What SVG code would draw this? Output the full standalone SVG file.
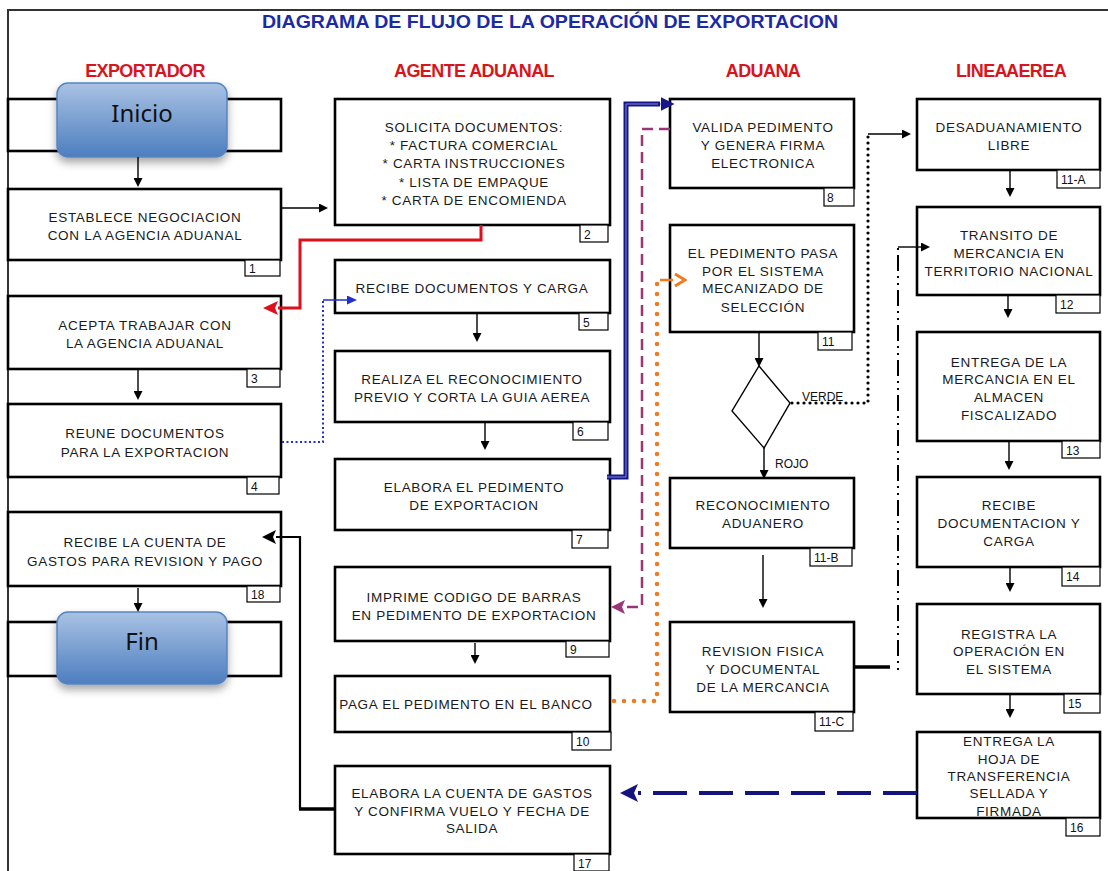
<svg xmlns="http://www.w3.org/2000/svg" width="1108" height="871" viewBox="0 0 1108 871">
<style>
.box{fill:#fff;stroke:#000;stroke-width:2.6}
.tag{fill:#fff;stroke:#000;stroke-width:1.2}
.t{font-family:"Liberation Sans",Arial,sans-serif;font-size:13.5px;fill:#1a1a1a;text-anchor:middle;letter-spacing:0.7px}
.n{font-family:"Liberation Sans",Arial,sans-serif;font-size:12px;fill:#111}
.hd{font-family:"Liberation Sans",Arial,sans-serif;font-size:18px;font-weight:bold;fill:#d8141c;text-anchor:middle;letter-spacing:-0.6px}
.term{font-family:"Noto Sans","Open Sans",sans-serif;font-size:24px;fill:#111;text-anchor:middle}
.ln{fill:none;stroke:#000;stroke-width:1.4}
</style>
<defs>
<linearGradient id="g" x1="0" y1="0" x2="0" y2="1">
<stop offset="0" stop-color="#a9c2e3"/>
<stop offset="1" stop-color="#4d7ebf"/>
</linearGradient>
<filter id="sh" x="-20%" y="-20%" width="140%" height="160%">
<feDropShadow dx="0" dy="5" stdDeviation="4" flood-color="#000" flood-opacity="0.35"/>
</filter>
<marker id="aK" markerUnits="userSpaceOnUse" markerWidth="10" markerHeight="9" refX="0" refY="4.5" orient="auto"><path d="M0,0 L9,4.5 L0,9 z" fill="#000"/></marker>
<marker id="aKb" markerUnits="userSpaceOnUse" markerWidth="16" markerHeight="14" refX="0" refY="7" orient="auto"><path d="M0,0 L14,7 L0,14 L3,7 z" fill="#000"/></marker>
<marker id="aR" markerUnits="userSpaceOnUse" markerWidth="16" markerHeight="14" refX="0" refY="7" orient="auto"><path d="M0,0 L15,7 L0,14 L3,7 z" fill="#e0101a"/></marker>
<marker id="aB" markerUnits="userSpaceOnUse" markerWidth="11" markerHeight="9" refX="0" refY="4.5" orient="auto"><path d="M0,0 L10,4.5 L0,9 z" fill="#1f2fd0"/></marker>
<marker id="aN" markerUnits="userSpaceOnUse" markerWidth="16" markerHeight="14" refX="0" refY="7" orient="auto"><path d="M0,0 L14,7 L0,14 z" fill="#16168a"/></marker>
<marker id="aP" markerUnits="userSpaceOnUse" markerWidth="15" markerHeight="14" refX="0" refY="7" orient="auto"><path d="M0,0 L14,7 L0,14 L3,7 z" fill="#9c3577"/></marker>
<marker id="aO" markerUnits="userSpaceOnUse" markerWidth="14" markerHeight="14" refX="0" refY="7" orient="auto"><path d="M2,1 L12,7 L2,13" fill="none" stroke="#f07a1e" stroke-width="3"/></marker>
<marker id="aD" markerUnits="userSpaceOnUse" markerWidth="20" markerHeight="18" refX="0" refY="9" orient="auto"><path d="M0,0 L18,9 L0,18 L4,9 z" fill="#14147e"/></marker>
</defs>

<!-- frame -->
<path d="M8,871 V10 H1108" fill="none" stroke="#333" stroke-width="2"/>

<text x="550" y="28" font-family="'Liberation Sans',Arial,sans-serif" font-size="18" font-weight="bold" fill="#1c2aa6" text-anchor="middle" textLength="576" lengthAdjust="spacingAndGlyphs">DIAGRAMA DE FLUJO DE LA OPERACIÓN DE EXPORTACION</text>

<text class="hd" x="145" y="77">EXPORTADOR</text>
<text class="hd" x="474" y="77">AGENTE ADUANAL</text>
<text class="hd" x="763" y="77">ADUANA</text>
<text class="hd" x="1011" y="77" word-spacing="-4">LINEA AEREA</text>

<!-- EXPORTADOR -->
<g id="inicio">
<rect class="box" x="8" y="99" width="273" height="52"/>
<rect x="57" y="83" width="170" height="74" rx="11" fill="url(#g)" stroke="#5585c4" stroke-width="1.5" filter="url(#sh)"/>
<text class="term" x="142" y="122">Inicio</text>
</g>
<g id="n1">
<rect class="box" x="8" y="189" width="273" height="71"/>
<text class="t" x="145" y="222">ESTABLECE NEGOCIACION</text>
<text class="t" x="145" y="240">CON LA AGENCIA ADUANAL</text>
<rect class="tag" x="245" y="260" width="35" height="16"/>
<text class="n" x="249" y="273">1</text>
</g>
<g id="n3">
<rect class="box" x="8" y="296" width="273" height="73"/>
<text class="t" x="145" y="330">ACEPTA TRABAJAR CON</text>
<text class="t" x="145" y="348">LA AGENCIA ADUANAL</text>
<rect class="tag" x="247" y="369" width="33" height="18"/>
<text class="n" x="251" y="383">3</text>
</g>
<g id="n4">
<rect class="box" x="8" y="404" width="273" height="73"/>
<text class="t" x="145" y="438">REUNE DOCUMENTOS</text>
<text class="t" x="145" y="457">PARA LA EXPORTACION</text>
<rect class="tag" x="247" y="477" width="32" height="17"/>
<text class="n" x="251" y="491">4</text>
</g>
<g id="n18">
<rect class="box" x="8" y="512" width="273" height="74"/>
<text class="t" x="145" y="547">RECIBE LA CUENTA DE</text>
<text class="t" x="145" y="566">GASTOS PARA REVISION Y PAGO</text>
<rect class="tag" x="247" y="586" width="33" height="16"/>
<text class="n" x="251" y="599">18</text>
</g>
<g id="fin">
<rect class="box" x="8" y="622" width="273" height="54"/>
<rect x="57" y="612" width="170" height="72" rx="11" fill="url(#g)" stroke="#5585c4" stroke-width="1.5" filter="url(#sh)"/>
<text class="term" x="142" y="650">Fin</text>
</g>

<!-- AGENTE ADUANAL -->
<g id="n2">
<rect class="box" x="335" y="99" width="275" height="126"/>
<text class="t" x="474" y="132">SOLICITA DOCUMENTOS:</text>
<text class="t" x="474" y="150">* FACTURA COMERCIAL</text>
<text class="t" x="474" y="168">* CARTA INSTRUCCIONES</text>
<text class="t" x="474" y="187">* LISTA DE EMPAQUE</text>
<text class="t" x="474" y="205">* CARTA DE ENCOMIENDA</text>
<rect class="tag" x="580" y="225" width="28" height="17"/>
<text class="n" x="584" y="239">2</text>
</g>
<g id="n5">
<rect class="box" x="335" y="260" width="275" height="53"/>
<text class="t" x="472" y="293">RECIBE DOCUMENTOS Y CARGA</text>
<rect class="tag" x="579" y="313" width="29" height="17"/>
<text class="n" x="583" y="327">5</text>
</g>
<g id="n6">
<rect class="box" x="335" y="351" width="275" height="71"/>
<text class="t" x="472" y="384">REALIZA EL RECONOCIMIENTO</text>
<text class="t" x="472" y="402">PREVIO Y CORTA LA GUIA AEREA</text>
<rect class="tag" x="573" y="422" width="35" height="18"/>
<text class="n" x="577" y="436">6</text>
</g>
<g id="n7">
<rect class="box" x="335" y="459" width="275" height="71"/>
<text class="t" x="474" y="492">ELABORA EL PEDIMENTO</text>
<text class="t" x="474" y="510">DE EXPORTACION</text>
<rect class="tag" x="572" y="530" width="36" height="18"/>
<text class="n" x="576" y="544">7</text>
</g>
<g id="n9">
<rect class="box" x="335" y="567" width="275" height="74"/>
<text class="t" x="474" y="602">IMPRIME CODIGO DE BARRAS</text>
<text class="t" x="474" y="620">EN PEDIMENTO DE EXPORTACION</text>
<rect class="tag" x="566" y="641" width="43" height="16"/>
<text class="n" x="570" y="654">9</text>
</g>
<g id="n10">
<rect class="box" x="335" y="676" width="275" height="56"/>
<text class="t" x="466" y="709">PAGA EL PEDIMENTO EN EL BANCO</text>
<rect class="tag" x="572" y="732" width="39" height="18"/>
<text class="n" x="576" y="746">10</text>
</g>
<g id="n17">
<rect class="box" x="335" y="766" width="275" height="88"/>
<text class="t" x="472" y="798">ELABORA LA CUENTA DE GASTOS</text>
<text class="t" x="472" y="816">Y CONFIRMA VUELO Y FECHA DE</text>
<text class="t" x="472" y="833">SALIDA</text>
<rect class="tag" x="574" y="854" width="35" height="17"/>
<text class="n" x="578" y="868">17</text>
</g>

<!-- ADUANA -->
<g id="n8">
<rect class="box" x="670" y="99" width="184" height="89"/>
<text class="t" x="763" y="132">VALIDA PEDIMENTO</text>
<text class="t" x="763" y="150">Y GENERA FIRMA</text>
<text class="t" x="763" y="168">ELECTRONICA</text>
<rect class="tag" x="824" y="188" width="30" height="18"/>
<text class="n" x="827" y="202">8</text>
</g>
<g id="n11">
<rect class="box" x="670" y="225" width="184" height="107"/>
<text class="t" x="763" y="258">EL PEDIMENTO PASA</text>
<text class="t" x="763" y="276">POR EL SISTEMA</text>
<text class="t" x="763" y="293">MECANIZADO DE</text>
<text class="t" x="763" y="312">SELECCIÓN</text>
<rect class="tag" x="818" y="332" width="34" height="18"/>
<text class="n" x="822" y="346">11</text>
</g>
<g id="decision">
<polygon points="759,366 790,403 764,448 732,411" fill="#fff" stroke="#000" stroke-width="1.4"/>
<text class="n" x="802" y="401" font-size="12.5">VERDE</text>
<text class="n" x="775" y="468" font-size="12.5">ROJO</text>
</g>
<g id="n11b">
<rect class="box" x="670" y="478" width="184" height="70"/>
<text class="t" x="763" y="510">RECONOCIMIENTO</text>
<text class="t" x="763" y="528">ADUANERO</text>
<rect class="tag" x="810" y="548" width="42" height="18"/>
<text class="n" x="814" y="562">11-B</text>
</g>
<g id="n11c">
<rect class="box" x="670" y="622" width="184" height="90"/>
<text class="t" x="763" y="656">REVISION FISICA</text>
<text class="t" x="763" y="674">Y DOCUMENTAL</text>
<text class="t" x="763" y="692">DE LA MERCANCIA</text>
<rect class="tag" x="815" y="712" width="38" height="19"/>
<text class="n" x="819" y="726">11-C</text>
</g>

<!-- LINEA AEREA -->
<g id="n11a">
<rect class="box" x="917" y="99" width="183" height="71"/>
<text class="t" x="1009" y="132">DESADUANAMIENTO</text>
<text class="t" x="1009" y="150">LIBRE</text>
<rect class="tag" x="1057" y="170" width="43" height="18"/>
<text class="n" x="1061" y="184">11-A</text>
</g>
<g id="n12">
<rect class="box" x="917" y="207" width="183" height="88"/>
<text class="t" x="1009" y="240">TRANSITO DE</text>
<text class="t" x="1009" y="258">MERCANCIA EN</text>
<text class="t" x="1009" y="276">TERRITORIO NACIONAL</text>
<rect class="tag" x="1056" y="295" width="44" height="18"/>
<text class="n" x="1060" y="309">12</text>
</g>
<g id="n13">
<rect class="box" x="917" y="332" width="183" height="109"/>
<text class="t" x="1009" y="367">ENTREGA DE LA</text>
<text class="t" x="1009" y="384">MERCANCIA EN EL</text>
<text class="t" x="1009" y="402">ALMACEN</text>
<text class="t" x="1009" y="420">FISCALIZADO</text>
<rect class="tag" x="1062" y="441" width="38" height="17"/>
<text class="n" x="1066" y="455">13</text>
</g>
<g id="n14">
<rect class="box" x="917" y="477" width="183" height="90"/>
<text class="t" x="1009" y="510">RECIBE</text>
<text class="t" x="1009" y="528">DOCUMENTACION Y</text>
<text class="t" x="1009" y="546">CARGA</text>
<rect class="tag" x="1062" y="567" width="38" height="19"/>
<text class="n" x="1066" y="581">14</text>
</g>
<g id="n15">
<rect class="box" x="917" y="604" width="183" height="90"/>
<text class="t" x="1009" y="639">REGISTRA LA</text>
<text class="t" x="1009" y="656">OPERACIÓN EN</text>
<text class="t" x="1009" y="674">EL SISTEMA</text>
<rect class="tag" x="1064" y="694" width="36" height="19"/>
<text class="n" x="1068" y="708">15</text>
</g>
<g id="n16">
<rect class="box" x="917" y="732" width="183" height="86"/>
<text class="t" x="1009" y="746">ENTREGA LA</text>
<text class="t" x="1009" y="764">HOJA DE</text>
<text class="t" x="1009" y="781">TRANSFERENCIA</text>
<text class="t" x="1009" y="798">SELLADA Y</text>
<text class="t" x="1009" y="816">FIRMADA</text>
<rect class="tag" x="1066" y="818" width="34" height="18"/>
<text class="n" x="1070" y="832">16</text>
</g>

<!-- connectors -->
<g id="connectors">
<path class="ln" d="M138,157 V178" marker-end="url(#aK)"/>
<path class="ln" d="M138,370 V391" marker-end="url(#aK)"/>
<path class="ln" d="M138,588 V603" marker-end="url(#aK)"/>
<path class="ln" d="M282,208 H319" marker-end="url(#aK)"/>
<path class="ln" d="M477,313 V333" marker-end="url(#aK)"/>
<path class="ln" d="M485,422 V441" marker-end="url(#aK)"/>
<path class="ln" d="M475,643 V655" marker-end="url(#aK)"/>
<path class="ln" d="M759,332 V358" marker-end="url(#aK)"/>
<path class="ln" d="M764,448 V470" marker-end="url(#aK)"/>
<path class="ln" d="M763,555 V599" marker-end="url(#aK)"/>
<path class="ln" d="M1010,170 V188" marker-end="url(#aK)"/>
<path class="ln" d="M1008,295 V309" marker-end="url(#aK)"/>
<path class="ln" d="M1009,441 V461" marker-end="url(#aK)"/>
<path class="ln" d="M1010,568 V583" marker-end="url(#aK)"/>
<path class="ln" d="M1010,694 V709" marker-end="url(#aK)"/>

<!-- red: 2 -> 3 -->
<path d="M481,225 V240 H300 V308 H278" fill="none" stroke="#e0101a" stroke-width="3" marker-end="url(#aR)"/>

<!-- blue dotted: 4 -> 5 -->
<path d="M282,442 H323 V300" fill="none" stroke="#1f2fd0" stroke-width="2" stroke-dasharray="2 2.5"/>
<path d="M323,300 H347" fill="none" stroke="#1f2fd0" stroke-width="1.5" marker-end="url(#aB)"/>

<!-- navy double: 7 -> 8 -->
<path d="M607,477 H626 V104 H660" fill="none" stroke="#16168a" stroke-width="5"/>
<path d="M607,477 H626 V104 H658" fill="none" stroke="#7f86d2" stroke-width="1"/>
<path d="M660,104 H660.5" fill="none" stroke="#16168a" stroke-width="1" marker-end="url(#aN)"/>

<!-- purple dashed: 8 -> 9 -->
<path d="M670,129 H642 V607 H625" fill="none" stroke="#9c3577" stroke-width="2.5" stroke-dasharray="11 6" marker-end="url(#aP)"/>

<!-- orange dotted: 10 -> 11 -->
<path d="M614,701 H657 V282" fill="none" stroke="#f07a1e" stroke-width="4.5" stroke-linecap="round" stroke-dasharray="0 10"/>
<path d="M660,280 H673" fill="none" stroke="#f07a1e" stroke-width="2.5" marker-end="url(#aO)"/>

<!-- VERDE: diamond -> 11-A -->
<path d="M792,403 H868 V136" fill="none" stroke="#000" stroke-width="3.2" stroke-linecap="round" stroke-dasharray="0 6"/>
<path class="ln" d="M868,134 H902" marker-end="url(#aK)"/>

<!-- 11-C -> 12 -->
<path d="M855,667 H890" fill="none" stroke="#000" stroke-width="3.5"/>
<path d="M898,670 V247" fill="none" stroke="#000" stroke-width="2" stroke-dasharray="2 5 2 5 16 5"/>
<path class="ln" d="M898,247 H921" marker-end="url(#aK)"/>

<!-- 17 -> 18 -->
<path d="M335,809 H299" fill="none" stroke="#000" stroke-width="3.5"/>
<path d="M300,809 V537 H276" fill="none" stroke="#000" stroke-width="2.2" marker-end="url(#aKb)"/>

<!-- navy dashed: 16 -> 17 -->
<path d="M917,793 H639" fill="none" stroke="#14147e" stroke-width="4" stroke-dasharray="34 12"/>
<path d="M640,793 H638" fill="none" stroke="#14147e" stroke-width="4" marker-end="url(#aD)"/>
</g>
</svg>
